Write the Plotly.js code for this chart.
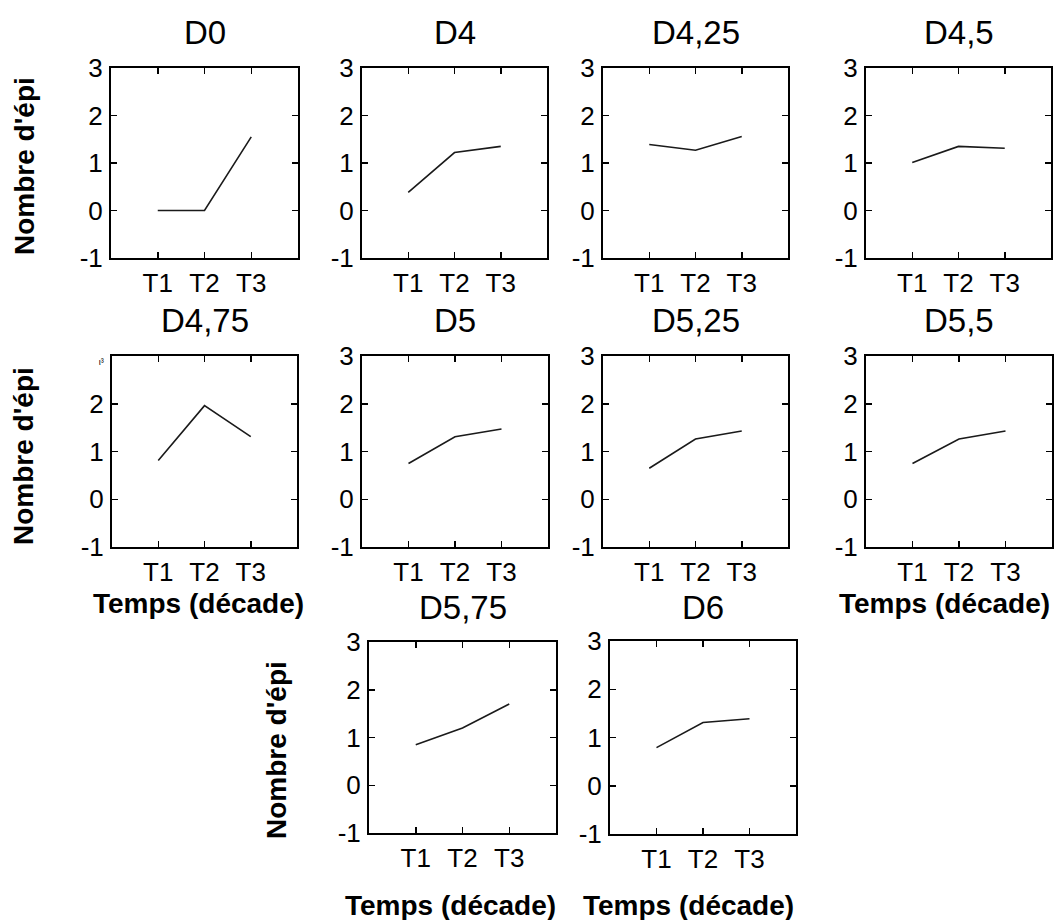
<!DOCTYPE html>
<html>
<head>
<meta charset="utf-8">
<script src="https://cdn.plot.ly/plotly-3.0.1.min.js"></script>
<style>
html,body{margin:0;padding:0;background:#fff;}
#chart{width:1055px;height:920px;}
</style>
</head>
<body>
<div id="chart"></div>
<script>
// ---- data ----
const categories = ['T1', 'T2', 'T3'];
const xPositions = [1, 2, 3];
const panelTitles = ['D0', 'D4', 'D4,25', 'D4,5', 'D4,75', 'D5', 'D5,25', 'D5,5', 'D5,75', 'D6'];
const d0   = [0.00, 0.00, 1.55];
const d4   = [0.38, 1.22, 1.35];
const d425 = [1.39, 1.27, 1.56];
const d45  = [1.01, 1.35, 1.31];
const d475 = [0.81, 1.96, 1.31];
const d5   = [0.75, 1.31, 1.47];
const d525 = [0.65, 1.26, 1.43];
const d55  = [0.75, 1.26, 1.43];
const d575 = [0.85, 1.20, 1.70];
const d6   = [0.79, 1.31, 1.39];
const seriesValues = [d0, d4, d425, d45, d475, d5, d525, d55, d575, d6];
const yTickVals = [-1, 0, 1, 2, 3];
const yTickText = ['-1', '0', '1', '2', '3'];
const yLabel = "Nombre d'épi";
const xLabel = 'Temps (décade)';

// ---- layout geometry (pixels) ----
const W = 1055, H = 920;
const rects = [ // left, right, top, bottom
  [111, 298, 68, 258], [362, 547, 68, 258], [603, 788, 68, 258], [866, 1051, 68, 258],
  [112, 297, 356, 547], [362, 548, 356, 547], [603, 788, 356, 547], [866, 1052, 356, 547],
  [369, 556, 642, 833], [610, 796, 641, 834]
];
const titleY = [33, 33, 33, 33, 320, 320, 320, 320, 607, 607];
const yTitlePos = [[25, 166], [23, 456], [276, 750]];
const xTitlePos = [[198, 603], [944, 603], [450, 905], [688, 905]];

const px = x => x / W;
const py = y => 1 - y / H;
const FONT = 'Liberation Sans, Arial, sans-serif';

const data = [];
const layout = {
  width: W, height: H,
  margin: {l: 0, r: 0, t: 0, b: 0, pad: 0},
  paper_bgcolor: '#fff', plot_bgcolor: '#fff',
  showlegend: false,
  font: {family: FONT, color: '#000'},
  annotations: []
};

seriesValues.forEach((vals, i) => {
  const n = i + 1;
  const xa = n === 1 ? 'x' : 'x' + n;
  const ya = n === 1 ? 'y' : 'y' + n;
  data.push({
    x: xPositions, y: vals, xaxis: xa, yaxis: ya,
    type: 'scatter', mode: 'lines',
    line: {color: '#1a1a1a', width: 1.6},
    hoverinfo: 'skip'
  });
  const r = rects[i];
  const yText = yTickText.slice();
  if (i === 4) yText[4] = '<span style="font-size:9px">ι³</span>';
  layout['xaxis' + (n === 1 ? '' : n)] = {
    domain: [px(r[0]), px(r[1])], anchor: ya,
    range: [0, 4], tickmode: 'array', tickvals: xPositions, ticktext: categories,
    showline: true, linecolor: '#000', linewidth: 2, mirror: 'ticks',
    ticks: 'inside', ticklen: 6, tickwidth: 1.5, tickcolor: '#000',
    showgrid: false, zeroline: false, fixedrange: true,
    tickfont: {family: FONT, size: 26, color: '#000'},
    ticklabelstandoff: 1
  };
  layout['yaxis' + (n === 1 ? '' : n)] = {
    domain: [py(r[3]), py(r[2])], anchor: xa,
    range: [-1, 3], tickmode: 'array', tickvals: yTickVals, ticktext: yText,
    showline: true, linecolor: '#000', linewidth: 2, mirror: 'ticks',
    ticks: 'inside', ticklen: 6, tickwidth: 1.5, tickcolor: '#000',
    showgrid: false, zeroline: false, fixedrange: true,
    tickfont: {family: FONT, size: 26, color: '#000'},
    ticklabelstandoff: 1
  };
  layout.annotations.push({
    text: panelTitles[i], xref: 'paper', yref: 'paper',
    x: px((r[0] + r[1]) / 2), y: py(titleY[i]),
    xanchor: 'center', yanchor: 'middle', showarrow: false,
    font: {family: FONT, size: 33, color: '#000'}
  });
});

yTitlePos.forEach(p => layout.annotations.push({
  text: '<b>' + yLabel + '</b>', xref: 'paper', yref: 'paper',
  x: px(p[0]), y: py(p[1]), xanchor: 'center', yanchor: 'middle',
  textangle: -90, showarrow: false,
  font: {family: FONT, size: 28, color: '#000'}
}));
xTitlePos.forEach(p => layout.annotations.push({
  text: '<b>' + xLabel + '</b>', xref: 'paper', yref: 'paper',
  x: px(p[0]), y: py(p[1]), xanchor: 'center', yanchor: 'middle',
  showarrow: false,
  font: {family: FONT, size: 28, color: '#000'}
}));

Plotly.newPlot('chart', data, layout, {staticPlot: true, displayModeBar: false});
</script>
</body>
</html>
